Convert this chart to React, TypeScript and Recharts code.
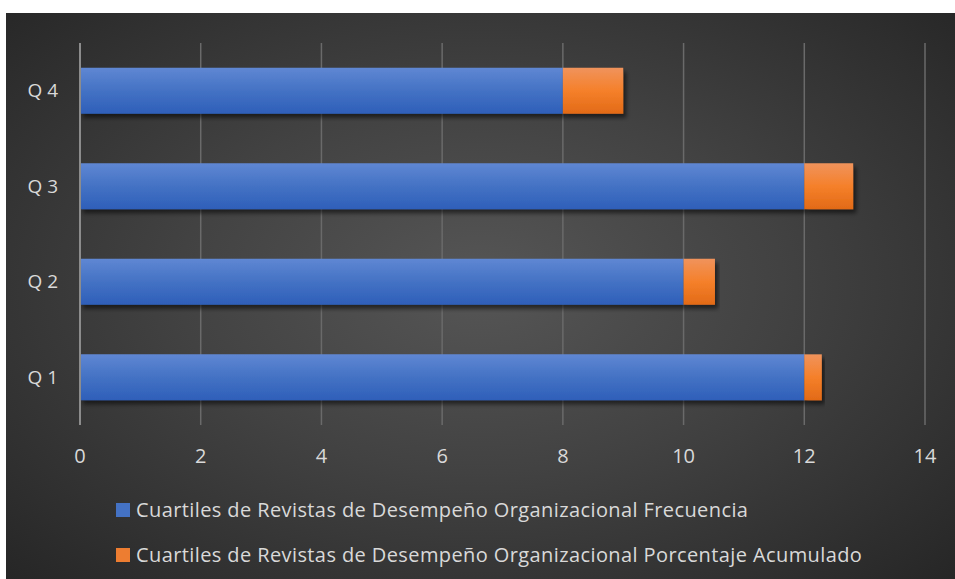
import React from "react";
import { BarChart, Bar, XAxis, YAxis, CartesianGrid } from "recharts";

const categories = ["Q 1", "Q 2", "Q 3", "Q 4"];
const frecuencia = [12, 10, 12, 8];
const porcentajeAcumulado = [0.29, 0.52, 0.81, 1.0];
const xTicks = [0, 2, 4, 6, 8, 10, 12, 14];

const seriesNames = [
  "Cuartiles de Revistas de Desempeño Organizacional Frecuencia",
  "Cuartiles de Revistas de Desempeño Organizacional Porcentaje Acumulado",
];
const seriesColors = ["#4472c4", "#ed7d31"];

const data = categories.map((q, i) => ({
  q,
  frecuencia: frecuencia[i],
  acumulado: porcentajeAcumulado[i],
}));

const textColor = "#d9d9d9";
const font = "'Open Sans', sans-serif";

// legend drawn as plain html under the plot
const LegendBox = () => (
  <div
    style={{
      position: "absolute",
      left: 110,
      top: 474,
      fontFamily: font,
      fontSize: 20,
      letterSpacing: 0.4,
      color: textColor,
    }}
  >
    {seriesNames.map((name, i) => (
      <div
        key={name}
        style={{ display: "flex", alignItems: "center", height: 45, whiteSpace: "nowrap" }}
      >
        <span
          style={{
            display: "inline-block",
            width: 14,
            height: 14,
            marginRight: 6,
            background: seriesColors[i],
          }}
        />
        {name}
      </div>
    ))}
  </div>
);

const App: React.FC = () => {
  return (
    <div
      style={{
        position: "absolute",
        left: 6,
        top: 13,
        width: 949,
        height: 566,
        background:
          "radial-gradient(ellipse at 50% 48%, #565656 0%, #424242 45%, #262626 100%)",
      }}
    >
      <BarChart
        width={949}
        height={566}
        data={data}
        layout="vertical"
        barCategoryGap="26%"
        margin={{ top: 30, right: 30, bottom: 124, left: 0 }}
      >
        <defs>
          <linearGradient id="blueGrad" x1="0" y1="0" x2="0" y2="1">
            <stop offset="0%" stopColor="#5f87d3" />
            <stop offset="50%" stopColor="#4472c4" />
            <stop offset="100%" stopColor="#2e5fb9" />
          </linearGradient>
          <linearGradient id="orangeGrad" x1="0" y1="0" x2="0" y2="1">
            <stop offset="0%" stopColor="#f0935c" />
            <stop offset="50%" stopColor="#f5802a" />
            <stop offset="100%" stopColor="#e26a17" />
          </linearGradient>
          <filter id="barShadow" x="-5%" y="-20%" width="120%" height="160%">
            <feDropShadow dx="3" dy="4" stdDeviation="2" floodColor="#000" floodOpacity="0.55" />
          </filter>
        </defs>
        <CartesianGrid horizontal={false} stroke="#6a6a6a" strokeWidth={1.5} />
        <XAxis
          type="number"
          domain={[0, 14]}
          ticks={xTicks}
          axisLine={false}
          tickLine={false}
          tickSize={0}
          tickMargin={24}
          tick={{ fill: textColor, fontSize: 20, fontFamily: font }}
        />
        <YAxis
          type="category"
          dataKey="q"
          reversed
          width={74}
          axisLine={{ stroke: "#8c8c8c", strokeWidth: 2 }}
          tickLine={false}
          tickSize={0}
          tickMargin={22}
          tick={{ fill: textColor, fontSize: 19, fontFamily: font }}
        />
        <Bar
          dataKey="frecuencia"
          stackId="a"
          fill="url(#blueGrad)"
          filter="url(#barShadow)"
          isAnimationActive={false}
        />
        <Bar
          dataKey="acumulado"
          stackId="a"
          fill="url(#orangeGrad)"
          filter="url(#barShadow)"
          isAnimationActive={false}
        />
      </BarChart>
      <LegendBox />
    </div>
  );
};

export default App;
